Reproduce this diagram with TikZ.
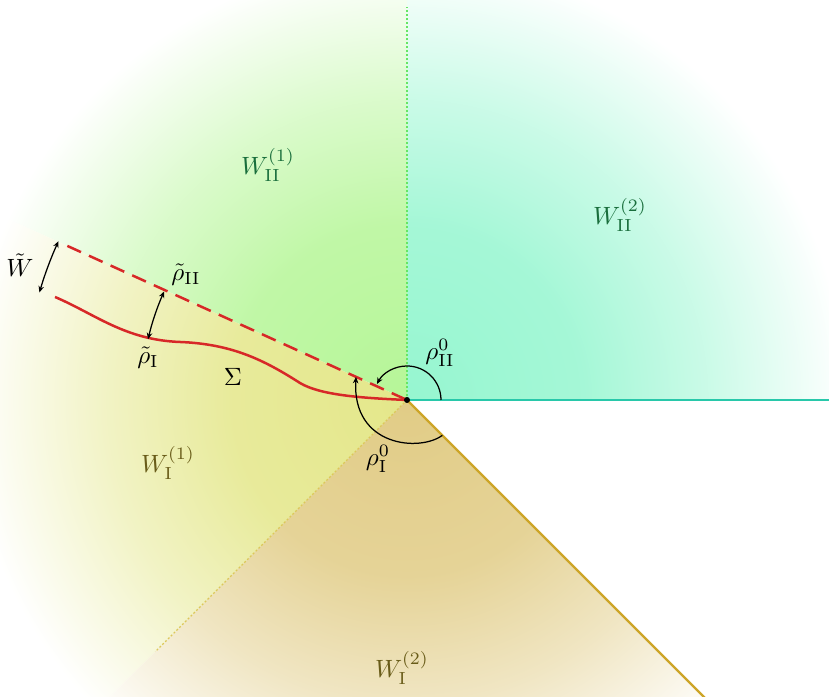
\documentclass[tikz,border=0pt]{standalone}
\usetikzlibrary{arrows.meta,calc}
\definecolor{cIIb}{RGB}{150,246,208}
\definecolor{cIIa}{RGB}{182,246,152}
\definecolor{cIa}{RGB}{228,231,138}
\definecolor{cIb}{RGB}{225,204,134}
\definecolor{tIIc}{RGB}{25,110,60}
\definecolor{tIc}{RGB}{105,92,25}
\definecolor{rline}{RGB}{215,40,40}
\definecolor{hlinec}{RGB}{40,200,170}
\definecolor{dlinec}{RGB}{205,165,40}
\definecolor{vdotc}{RGB}{100,230,100}
\definecolor{ldotc}{RGB}{220,200,90}
\newcommand\mkfade[2]{\pgfdeclareradialshading{#1}{\pgfpointorigin}{color(0bp)=(#2); color(70bp)=(#2!86!white); color(120bp)=(#2!50!white); color(160bp)=(#2!14!white); color(175bp)=(white)}}
\mkfade{shIIb}{cIIb}
\mkfade{shIIa}{cIIa}
\mkfade{shIa}{cIa}
\mkfade{shIb}{cIb}
\begin{document}
\begin{tikzpicture}[x=0.4pt,y=0.4pt,
  fadebox/.style={inner sep=0pt,outer sep=0pt},
  arr/.style={line width=0.5pt,black},
  >={Stealth[length=2.6pt,width=2.2pt]},
  lblII/.style={text=tIIc,inner sep=0pt},
  lblI/.style={text=tIc,inner sep=0pt},
  lbl/.style={inner sep=0pt},
  redline/.style={rline,line width=1pt},
  reddash/.style={redline,dash pattern=on 6pt off 3.5pt},
  vdotted/.style={vdotc,line width=0.45pt,dash pattern=on 0.8pt off 0.8pt},
  ldotted/.style={ldotc,line width=0.45pt,dash pattern=on 0.8pt off 0.8pt},
  hline/.style={hlinec,line width=1pt},
  dline/.style={dlinec,line width=0.9pt}]
\useasboundingbox (0,0) rectangle (829,697);
\coordinate (O) at (407,297);
% shaded sectors
\begin{scope}
  \clip (O) -- +(0:1000) -- +(45:1000) -- +(90:1000) -- cycle;
  \node[fadebox] (fIIb) at (O) {\pgfuseshading{shIIb}};
\end{scope}
\begin{scope}
  \clip (O) -- +(90:1000) -- +(123:1000) -- +(155.6:1000) -- cycle;
  \node[fadebox] (fIIa) at (O) {\pgfuseshading{shIIa}};
\end{scope}
\begin{scope}
  \clip (O) -- +(155.6:1000) -- +(190:1000) -- +(225:1000) -- cycle;
  \node[fadebox] (fIa) at (O) {\pgfuseshading{shIa}};
\end{scope}
\begin{scope}
  \clip (O) -- +(225:1000) -- +(270:1000) -- +(315:1000) -- cycle;
  \node[fadebox] (fIb) at (O) {\pgfuseshading{shIb}};
\end{scope}
% rays
\coordinate (vtop) at (407,690);
\coordinate (lend) at ($(O)+(225:356)$);
\coordinate (hend) at (829,297);
\coordinate (dend) at ($(O)+(-45:430)$);
\coordinate (dashE) at ($(O)+(155.6:373)$);
\coordinate (sigS) at (55,400);
\draw[vdotted] (O) -- (vtop);
\draw[ldotted] (O) -- (lend);
\draw[hline] (O) -- (hend);
\draw[dline] (O) -- (dend);
\draw[reddash] (dashE) -- (O);
\draw[redline] (sigS) .. controls (95,383) and (125,357) .. (180,355)
  .. controls (232,353) and (264,337) .. (300,314)
  .. controls (320,302) and (360,299) .. (O);
% angle arrows
\coordinate (wA) at ($(O)+(163.7:383)$);
\coordinate (rtA) at ($(O)+(166.8:266)$);
\coordinate (r2A) at ($(O)+(0:34)$);
\coordinate (r1A) at ($(O)+(-45:50)$);
\coordinate (r1B) at ($(O)+(155.6:56)$);
\draw[arr,<->] (wA) arc[start angle=163.7,end angle=155.5,radius=383];
\draw[arr,<->] (rtA) arc[start angle=166.8,end angle=155.9,radius=266];
\draw[arr,->] (r2A) arc[start angle=0,end angle=152,radius=34];
\draw[arr,->] (r1A) .. controls (420,245) and (352,250) .. (r1B);
\fill (O) circle[radius=3];
% labels
\node[lblII] (wII1) at (268,532) {$W^{(1)}_{\mathrm{II}}$};
\node[lblII] (wII2) at (620,482) {$W^{(2)}_{\mathrm{II}}$};
\node[lblI] (wI1) at (168,234) {$W^{(1)}_{\mathrm{I}}$};
\node[lblI] (wI2) at (402,29) {$W^{(2)}_{\mathrm{I}}$};
\node[lbl] (wt) at (20,432) {$\tilde W$};
\node[lbl] (rtII) at (186,422) {$\tilde\rho_{\mathrm{II}}$};
\node[lbl] (rtI) at (148,339) {$\tilde\rho_{\mathrm{I}}$};
\node[lbl] (sig) at (233,320) {$\Sigma$};
\node[lbl] (r2) at (440,344) {$\rho^0_{\mathrm{II}}$};
\node[lbl] (r1) at (378,238) {$\rho^0_{\mathrm{I}}$};
\end{tikzpicture}
\end{document}
